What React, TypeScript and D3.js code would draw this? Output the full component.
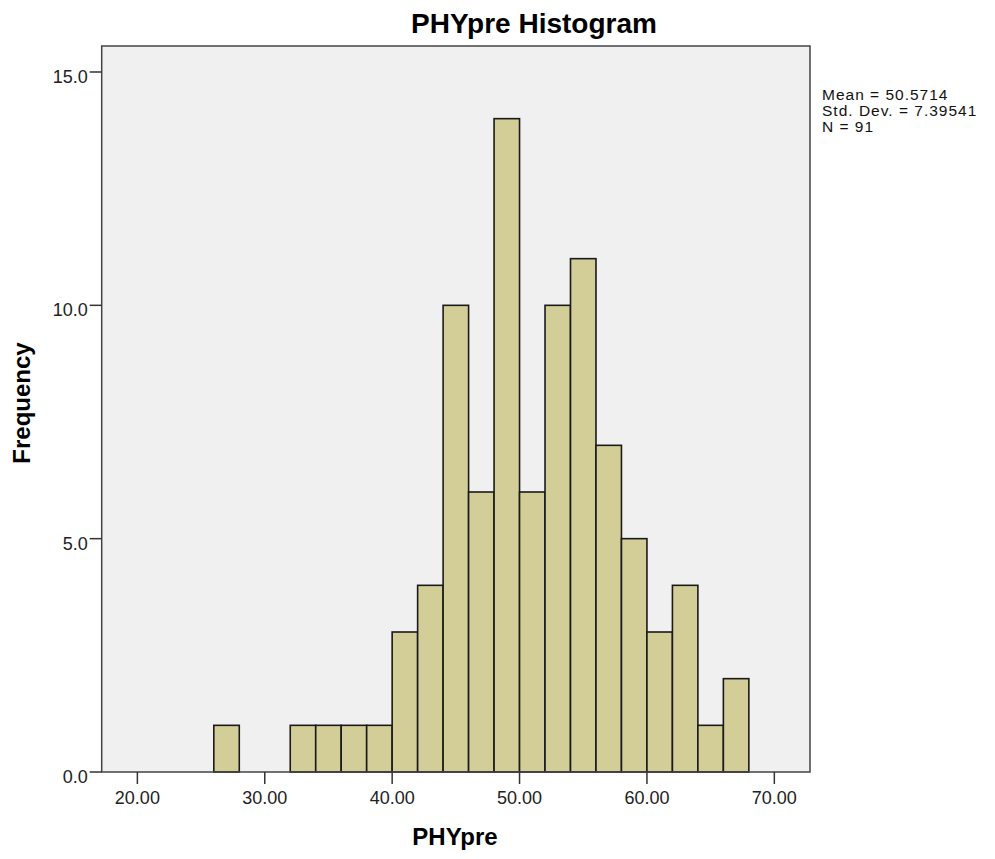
import React from "react";
import * as d3 from "d3";

const binStarts = [26, 28, 30, 32, 34, 36, 38, 40, 42, 44, 46, 48, 50, 52, 54, 56, 58, 60, 62, 64, 66];
const counts = [1, 0, 0, 1, 1, 1, 1, 3, 4, 10, 6, 14, 6, 10, 11, 7, 5, 3, 4, 1, 2];
const binWidth = 2;
const xTicks = [20, 30, 40, 50, 60, 70];
const yTicks = [0, 5, 10, 15];
const statsLines = ["Mean = 50.5714", "Std. Dev. = 7.39541", "N = 91"];
const title = "PHYpre Histogram";
const xLabel = "PHYpre";
const yLabel = "Frequency";

const W = 995;
const H = 859;
const plot = { left: 101.7, right: 810, top: 46, bottom: 772 };
const font = "'Liberation Sans', Arial, sans-serif";

export default function App() {
  const x = d3.scaleLinear().domain([17.2, 72.8]).range([plot.left, plot.right]);
  const y = d3.scaleLinear().domain([0, 15.557]).range([plot.bottom, plot.top]);

  return (
    <svg width={W} height={H} style={{ position: "absolute", left: 0, top: 0, background: "#fff" }}>
      <rect x={plot.left} y={plot.top} width={plot.right - plot.left} height={plot.bottom - plot.top} fill="#f0f0f0" />
      {binStarts.map((b, i) =>
        counts[i] > 0 ? (
          <rect
            key={i}
            x={x(b)}
            y={y(counts[i])}
            width={x(b + binWidth) - x(b)}
            height={y(0) - y(counts[i])}
            fill="#d3ce97"
            stroke="#1a1a1a"
            strokeWidth={1.6}
          />
        ) : null
      )}
      <rect x={plot.left} y={plot.top} width={plot.right - plot.left} height={plot.bottom - plot.top} fill="none" stroke="#444" strokeWidth={1.5} />
      {yTicks.map((t) => (
        <g key={t}>
          <line x1={plot.left - 12} x2={plot.left} y1={y(t)} y2={y(t)} stroke="#333" strokeWidth={1.5} />
          <text x={plot.left - 14} y={y(t) + 11} textAnchor="end" fontFamily={font} fontSize={18} fill="#222">
            {t.toFixed(1)}
          </text>
        </g>
      ))}
      {xTicks.map((t) => (
        <g key={t}>
          <line x1={x(t)} x2={x(t)} y1={plot.bottom} y2={plot.bottom + 12} stroke="#333" strokeWidth={1.5} />
          <text x={x(t)} y={804} textAnchor="middle" fontFamily={font} fontSize={18} fill="#222">
            {t.toFixed(2)}
          </text>
        </g>
      ))}
      <text x={534} y={33} textAnchor="middle" fontFamily={font} fontSize={28} fontWeight="bold" fill="#000">
        {title}
      </text>
      <text x={455} y={845} textAnchor="middle" fontFamily={font} fontSize={24} fontWeight="bold" fill="#000">
        {xLabel}
      </text>
      <text
        transform={`translate(30,403) rotate(-90)`}
        textAnchor="middle"
        fontFamily={font}
        fontSize={24}
        fontWeight="bold"
        fill="#000"
      >
        {yLabel}
      </text>
      {statsLines.map((s, i) => (
        <text key={i} x={822} y={99.5 + i * 16} fontFamily={font} fontSize={15.5} letterSpacing={1} fill="#111">
          {s}
        </text>
      ))}
    </svg>
  );
}
